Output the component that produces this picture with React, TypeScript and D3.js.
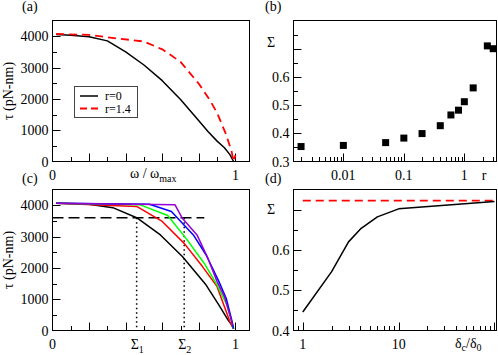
import React, { useEffect, useRef } from 'react';
import * as d3 from 'd3';

// (a) torque vs speed, two resurrection rates
const omegaR0 = [0.02, 0.1, 0.2, 0.3, 0.4, 0.5, 0.6, 0.7, 0.8, 0.85, 0.9, 0.94, 0.97, 0.99];
const tauR0 = [4050, 4030, 3980, 3850, 3500, 3080, 2580, 1980, 1300, 960, 650, 440, 220, 0];
const omegaR14 = [0.02, 0.2, 0.35, 0.5, 0.6, 0.7, 0.8, 0.86, 0.9, 0.95, 0.98, 0.99, 1.0];
const tauR14 = [4070, 4040, 3930, 3830, 3580, 3180, 2480, 1960, 1550, 850, 300, 0, 200];

// (b) Sigma vs r
const rValues = [0.002, 0.01, 0.05, 0.1, 0.2, 0.4, 0.6, 0.8, 1, 1.4, 2.4, 3.0];
const sigmaR = [0.353, 0.357, 0.367, 0.383, 0.399, 0.427, 0.465, 0.482, 0.512, 0.561, 0.71, 0.70];

// (c) torque vs speed, several curves
const cBlackX = [0.02, 0.19, 0.33, 0.46, 0.59, 0.71, 0.84, 0.91, 0.96, 0.98, 0.99];
const cBlackY = [4060, 4040, 3920, 3600, 3050, 2360, 1450, 810, 330, 170, 50];
const cRedX = [0.02, 0.46, 0.6, 0.72, 0.82, 0.9, 0.94, 0.97, 0.99];
const cRedY = [4060, 3960, 3480, 2780, 2040, 1400, 760, 280, 60];
const cGreenX = [0.02, 0.48, 0.63, 0.73, 0.83, 0.9, 0.95, 0.98, 0.99];
const cGreenY = [4060, 4010, 3670, 2940, 2140, 1450, 860, 280, 50];
const cBlueX = [0.02, 0.53, 0.65, 0.77, 0.84, 0.91, 0.95, 0.98, 0.99];
const cBlueY = [4060, 4030, 3800, 3050, 2410, 1560, 1020, 330, 60];
const cVioletX = [0.02, 0.67, 0.71, 0.79, 0.85, 0.9, 0.94, 0.97, 0.985];
const cVioletY = [4060, 4010, 3580, 3050, 2300, 1560, 1080, 490, 170];
const stallTau = 3600;
const sigma1 = 0.46;
const sigma2 = 0.72;
const stallLineEnd = 0.83;

// (d) Sigma vs delta_c / delta_0
const deltaRatio = [1, 2, 3, 4, 6, 10, 100];
const sigmaDelta = [0.446, 0.546, 0.62, 0.652, 0.682, 0.702, 0.72];
const sigmaLimit = 0.7225;

const FONT = 'Liberation Serif, DejaVu Serif, serif';
const FS = 14;

const App = () => {
  const svgRef = useRef(null);

  useEffect(() => {
    const svg = d3.select(svgRef.current);
    svg.selectAll('*').remove();

    const L1 = 52.5, R1 = 249.5, L2 = 293.5, R2 = 496.5;
    const TA = 20.5, BA = 161.5, TC = 189.5, BC = 330.5;

    const xA = d3.scaleLinear().domain([0, 1.077]).range([L1, R1]);
    const yA = d3.scaleLinear().domain([0, 4500]).range([BA, TA]);
    const yC = d3.scaleLinear().domain([0, 4500]).range([BC, TC]);
    const xB = d3.scaleLog().domain([0.0015, 3.4]).range([L2, R2]);
    const yB = d3.scaleLinear().domain([0.3, 0.8]).range([BA, TA]);
    const xD = d3.scaleLog().domain([0.8, 105]).range([L2, R2]);
    const yD = d3.scaleLinear().domain([0.4, 0.75]).range([BC, TC]);

    const text = (x, y, s, anchor = 'middle', size = FS) =>
      svg.append('text')
        .attr('x', x).attr('y', y)
        .attr('text-anchor', anchor)
        .attr('font-family', FONT)
        .attr('font-size', size)
        .attr('fill', '#000')
        .text(s);

    const frame = (x0, x1, y0, y1) => {
      svg.append('rect')
        .attr('x', x0).attr('y', y0)
        .attr('width', x1 - x0).attr('height', y1 - y0)
        .attr('fill', 'none').attr('stroke', '#000').attr('stroke-width', 1);
    };

    const yTicks = (scale, x0, major, minor) => {
      major.forEach(v => svg.append('line')
        .attr('x1', x0).attr('x2', x0 + 8)
        .attr('y1', Math.round(scale(v)) + 0.5).attr('y2', Math.round(scale(v)) + 0.5)
        .attr('stroke', '#000'));
      minor.forEach(v => svg.append('line')
        .attr('x1', x0).attr('x2', x0 + 4.5)
        .attr('y1', Math.round(scale(v)) + 0.5).attr('y2', Math.round(scale(v)) + 0.5)
        .attr('stroke', '#000'));
    };

    const xTicks = (scale, y1, major, minor) => {
      major.forEach(v => svg.append('line')
        .attr('y1', y1).attr('y2', y1 - 8)
        .attr('x1', Math.round(scale(v)) + 0.5).attr('x2', Math.round(scale(v)) + 0.5)
        .attr('stroke', '#000'));
      minor.forEach(v => svg.append('line')
        .attr('y1', y1).attr('y2', y1 - 4.5)
        .attr('x1', Math.round(scale(v)) + 0.5).attr('x2', Math.round(scale(v)) + 0.5)
        .attr('stroke', '#000'));
    };

    const logMinor = (domain) => {
      const out = [];
      [0.001, 0.01, 0.1, 1, 10, 100].forEach(d => {
        for (let k = 2; k <= 9; k++) {
          const v = d * k;
          if (v > domain[0] && v < domain[1]) out.push(v);
        }
      });
      return out;
    };

    const line = (xs, ys, xScale, yScale, color, dash = null, width = 1.5) => {
      const pts = xs.map((x, i) => [xScale(x), yScale(ys[i])]);
      const p = svg.append('path')
        .attr('d', d3.line()(pts))
        .attr('fill', 'none')
        .attr('stroke', color)
        .attr('stroke-width', width)
        .attr('stroke-linejoin', 'round');
      if (dash) p.attr('stroke-dasharray', dash);
      return p;
    };

    const yLabel = (cy) => {
      svg.append('text')
        .attr('transform', `translate(13,${cy}) rotate(-90)`)
        .attr('text-anchor', 'middle')
        .attr('font-family', FONT)
        .attr('font-size', FS)
        .text('τ (pN-nm)');
    };

    // ---------- (a) ----------
    frame(L1, R1, TA, BA);
    yTicks(yA, L1, [1000, 2000, 3000, 4000], [500, 1500, 2500, 3500]);
    xTicks(xA, BA, [0.2, 0.4, 0.6, 0.8, 1.0], [0.1, 0.3, 0.5, 0.7, 0.9]);
    [0, 1000, 2000, 3000, 4000].forEach(v => text(L1 - 4, yA(v) + 5, String(v), 'end'));
    text(xA(0), BA + 18.5, '0');
    text(xA(1), BA + 18.5, '1');
    const wl = svg.append('text')
      .attr('x', 130).attr('y', BA + 16.5)
      .attr('font-family', FONT).attr('font-size', FS);
    wl.append('tspan').text('ω / ω');
    wl.append('tspan').attr('dy', 4).attr('font-size', 10).text('max');
    yLabel((TA + BA) / 2);
    line(omegaR0, tauR0, xA, yA, '#000');
    line(omegaR14, tauR14, xA, yA, '#ff0000', '8,5', 1.8);
    // legend
    svg.append('rect')
      .attr('x', 74.5).attr('y', 86.5).attr('width', 63).attr('height', 31)
      .attr('fill', '#fff').attr('stroke', '#444').attr('stroke-width', 1);
    svg.append('line').attr('x1', 80).attr('x2', 98).attr('y1', 96).attr('y2', 96)
      .attr('stroke', '#000').attr('stroke-width', 1.5);
    svg.append('line').attr('x1', 80).attr('x2', 100).attr('y1', 108.5).attr('y2', 108.5)
      .attr('stroke', '#ff0000').attr('stroke-width', 1.8).attr('stroke-dasharray', '7,4');
    text(105, 100, 'r=0', 'start', 12);
    text(105, 112.5, 'r=1.4', 'start', 12);
    text(22, 11, '(a)', 'start');

    // ---------- (b) ----------
    frame(L2, R2, TA, BA);
    yTicks(yB, L2, [0.4, 0.5, 0.6, 0.7], [0.35, 0.45, 0.55, 0.65, 0.75]);
    xTicks(xB, BA, [0.01, 0.1, 1], logMinor(xB.domain()));
    [0.3, 0.4, 0.5, 0.6].forEach(v => text(L2 - 4, yB(v) + 5, v.toFixed(1), 'end'));
    text(271, yB(0.7) - 1.5, 'Σ');
    text(xB(0.01), BA + 18.5, '0.01');
    text(xB(0.1), BA + 18.5, '0.1');
    text(xB(1), BA + 18.5, '1');
    text(484, BA + 18.5, 'r');
    svg.selectAll('.sq')
      .data(rValues.map((r, i) => [r, sigmaR[i]]))
      .enter().append('rect')
      .attr('x', d => xB(d[0]) - 3.5)
      .attr('y', d => yB(d[1]) - 3.5)
      .attr('width', 7).attr('height', 7)
      .attr('fill', '#000');
    text(265, 11, '(b)', 'start');

    // ---------- (c) ----------
    frame(L1, R1, TC, BC);
    yTicks(yC, L1, [1000, 2000, 3000, 4000], [500, 1500, 2500, 3500]);
    xTicks(xA, BC, [0.2, 0.4, 0.6, 0.8, 1.0], [0.1, 0.3, 0.5, 0.7, 0.9]);
    [0, 1000, 2000, 3000, 4000].forEach(v => text(L1 - 4, yC(v) + 5, String(v), 'end'));
    text(xA(0), BC + 18.5, '0');
    text(xA(1), BC + 18.5, '1');
    [[sigma1, '1'], [sigma2, '2']].forEach(([s, k]) => {
      const t = svg.append('text')
        .attr('x', xA(s) - 6).attr('y', BC + 18.5)
        .attr('font-family', FONT).attr('font-size', FS);
      t.append('tspan').text('Σ');
      t.append('tspan').attr('dy', 4).attr('font-size', 10).text(k);
    });
    yLabel((TC + BC) / 2);
    line([0, stallLineEnd], [stallTau, stallTau], xA, yC, '#000', '11,5', 1.5);
    [sigma1, sigma2].forEach(s =>
      line([s, s], [stallTau, 0], xA, yC, '#000', '1.5,3', 1.5));
    line(cBlackX, cBlackY, xA, yC, '#000');
    line(cRedX, cRedY, xA, yC, '#ff0000');
    line(cGreenX, cGreenY, xA, yC, '#00ff00');
    line(cBlueX, cBlueY, xA, yC, '#0000ff');
    line(cVioletX, cVioletY, xA, yC, '#9400d3');
    text(22, 183, '(c)', 'start');

    // ---------- (d) ----------
    frame(L2, R2, TC, BC);
    yTicks(yD, L2, [0.5, 0.6, 0.7], [0.45, 0.55, 0.65]);
    xTicks(xD, BC, [1, 10, 100], logMinor(xD.domain()));
    [0.4, 0.5, 0.6].forEach(v => text(L2 - 4, yD(v) + 5, v.toFixed(1), 'end'));
    text(271, yD(0.7) + 4.5, 'Σ');
    text(xD(1), BC + 18.5, '1');
    text(xD(10), BC + 18.5, '10');
    const dl = svg.append('text')
      .attr('x', 455).attr('y', BC + 17.5)
      .attr('font-family', FONT).attr('font-size', FS);
    dl.append('tspan').text('δ');
    dl.append('tspan').attr('dy', 3).attr('font-size', 10).text('c');
    dl.append('tspan').attr('dy', -3).text('/δ');
    dl.append('tspan').attr('dy', 3).attr('font-size', 10).text('0');
    line([1, 105], [sigmaLimit, sigmaLimit], xD, yD, '#ff0000', '8,5', 1.8);
    line(deltaRatio, sigmaDelta, xD, yD, '#000');
    text(265, 183, '(d)', 'start');
  }, []);

  return (
    <svg
      ref={svgRef}
      width={498}
      height={355}
      style={{ position: 'absolute', left: 0, top: 0, background: '#fff' }}
    />
  );
};

export default App;
